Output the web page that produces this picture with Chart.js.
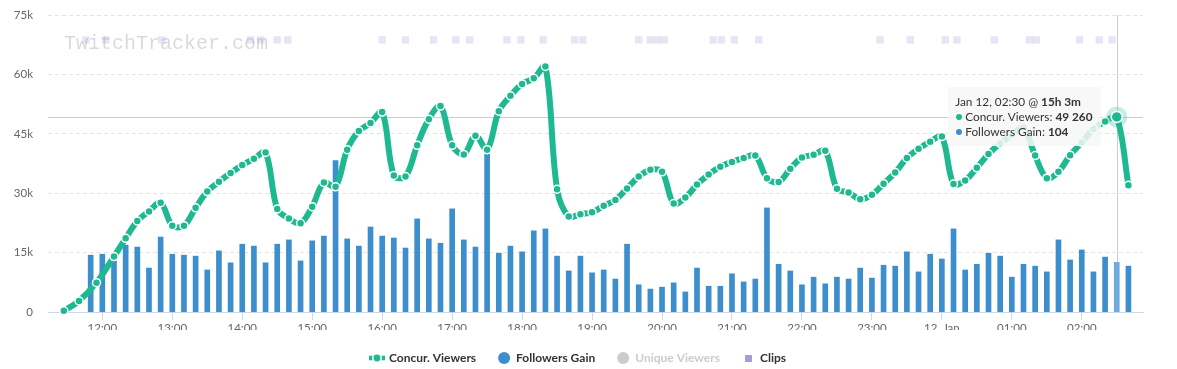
<!DOCTYPE html>
<html>
<head>
<meta charset="utf-8">
<script src="https://cdn.jsdelivr.net/npm/chart.js@4.4.1/dist/chart.umd.min.js"></script>
<style>
  html, body { margin: 0; padding: 0; background: #fff; }
  #wrap { position: relative; width: 1177px; height: 369px; }
  #tip {
    position: absolute; display: none; pointer-events: none;
    background: rgba(247, 247, 247, 0.85);
    padding: 7px 8px 7px 7px;
    font: 11.8px/15px Lato, sans-serif; color: #333;
    white-space: nowrap;
  }
  #tip b { font-weight: bold; }
  #tip .dot { display: inline-block; width: 6px; height: 6px; border-radius: 50%; margin: 0 3px 1px 1px; vertical-align: middle; }
</style>
</head>
<body>
<div id="wrap">
  <canvas id="chart" width="1177" height="369"></canvas>
  <div id="tip"></div>
</div>
<script>
// concurrent viewers, one sample every 10 minutes after the first few
const viewerTimes = ['11:27', '11:40', '11:55',
  '12:10', '12:20', '12:30', '12:40', '12:50', '13:00', '13:10', '13:20', '13:30', '13:40', '13:50',
  '14:00', '14:10', '14:20', '14:30', '14:40', '14:50', '15:00', '15:10', '15:20', '15:30', '15:40', '15:50',
  '16:00', '16:10', '16:20', '16:30', '16:40', '16:50', '17:00', '17:10', '17:20', '17:30', '17:40', '17:50',
  '18:00', '18:10', '18:20', '18:30', '18:40', '18:50', '19:00', '19:10', '19:20', '19:30', '19:40', '19:50',
  '20:00', '20:10', '20:20', '20:30', '20:40', '20:50', '21:00', '21:10', '21:20', '21:30', '21:40', '21:50',
  '22:00', '22:10', '22:20', '22:30', '22:40', '22:50', '23:00', '23:10', '23:20', '23:30', '23:40', '23:50',
  '00:00', '00:10', '00:20', '00:30', '00:40', '00:50', '01:00', '01:10', '01:20', '01:30', '01:40', '01:50',
  '02:00', '02:10', '02:20', '02:30', '02:40'];
const viewers = [300, 2800, 7400,
  14000, 18600, 23000, 25400, 27600, 21800, 21800, 26300, 30400, 32900, 35100,
  37100, 38700, 40300, 26000, 23600, 22400, 26600, 32700, 31600, 41000, 45700, 47700,
  50500, 34500, 34200, 42100, 48700, 52000, 42100, 39800, 44500, 41000, 50700, 54600,
  57600, 59000, 62000, 31000, 24100, 24700, 25200, 26800, 28300, 31200, 34200, 35900,
  35400, 27400, 28900, 32200, 34700, 36700, 37900, 38900, 39500, 33800, 32800, 36200,
  39000, 39700, 40700, 31100, 30200, 28500, 29600, 32400, 35200, 38900, 41200, 43000,
  44300, 32300, 33200, 36400, 39900, 42600, 44700, 46500, 39500, 33800, 35400, 39600,
  42800, 46200, 48100, 49260, 32000];

// followers gained per 10 minutes
const followerTimes = ['11:50', '12:00'].concat(viewerTimes.slice(3));
const followers = [119, 121, 115, 140, 136, 92, 157, 121, 119, 117,
  88, 128, 103, 142, 138, 103, 142, 151, 107, 149,
  159, 317, 153, 138, 178, 159, 155, 134, 195, 153,
  144, 216, 151, 136, 330, 123, 138, 126, 170, 174,
  117, 86, 117, 82, 88, 69, 142, 57, 48, 52,
  61, 42, 92, 54, 54, 80, 63, 69, 218, 100,
  86, 57, 73, 59, 73, 69, 92, 71, 98, 96,
  126, 84, 121, 111, 174, 88, 100, 123, 117, 73,
  100, 96, 84, 151, 109, 130, 84, 115, 104, 96];

// clip creation times
const clipTimes = ['11:46', '12:03', '12:51', '14:07', '14:16', '14:30', '14:39', '16:00', '16:20', '16:44',
  '17:03', '17:15', '17:47', '17:59', '18:18', '18:45', '18:52', '19:40', '19:50', '19:56', '20:02',
  '20:44', '20:51', '21:02', '21:23', '23:07', '23:33', '00:03', '00:13', '00:45', '01:15', '01:21',
  '01:58', '02:15', '02:26'];

const hourTicks = ['12:00', '13:00', '14:00', '15:00', '16:00', '17:00', '18:00', '19:00',
  '20:00', '21:00', '22:00', '23:00', '00:00', '01:00', '02:00'];
const hourLabels = ['12:00', '13:00', '14:00', '15:00', '16:00', '17:00', '18:00', '19:00',
  '20:00', '21:00', '22:00', '23:00', '12. Jan', '01:00', '02:00'];

const legendNames = ['Concur. Viewers', 'Followers Gain', 'Unique Viewers', 'Clips'];
const streamStart = '11:27';
const hoverTime = '02:30';

const TEAL = '#1eb991';
const BLUE = '#3d8ecc';

// minutes since 00:00 on Jan 11 (times before 11:00 belong to Jan 12)
function toMin(t) {
  const [h, m] = t.split(':').map(Number);
  return (h < 11 ? h + 24 : h) * 60 + m;
}
function fmtTime(min) {
  const h = Math.floor(min / 60) % 24, m = min % 60;
  return String(h).padStart(2, '0') + ':' + String(m).padStart(2, '0');
}
function fmtNum(n) {
  return n.toLocaleString('en-US').replace(/,/g, ' ');
}

const CLIP_ROW = 68700; // clips are drawn as a row of squares near the top

// legend icons
const lineIcon = document.createElement('canvas');
lineIcon.width = 18; lineIcon.height = 12;
(function () {
  const c = lineIcon.getContext('2d');
  c.strokeStyle = TEAL; c.lineWidth = 4.5;
  c.beginPath(); c.moveTo(1, 6); c.lineTo(17, 6); c.stroke();
  c.fillStyle = TEAL; c.strokeStyle = '#fff'; c.lineWidth = 1.5;
  c.beginPath(); c.arc(9, 6, 4.2, 0, Math.PI * 2); c.fill(); c.stroke();
})();
const clipIcon = document.createElement('canvas');
clipIcon.width = 7; clipIcon.height = 7;
(function () {
  const c = clipIcon.getContext('2d');
  c.fillStyle = '#a99bd8'; c.fillRect(0, 0, 7, 7);
})();

const tipEl = document.getElementById('tip');
function externalTooltip({ tooltip }) {
  const pts = tooltip.dataPoints || [];
  const v = pts.find(d => d.datasetIndex === 0);
  const f = pts.find(d => d.datasetIndex === 1);
  if (!v) { tipEl.style.display = 'none'; return; }
  const x = v.raw.x;
  const dur = x - toMin(streamStart);
  const day = x >= 1440 ? 'Jan 12' : 'Jan 11';
  let html = day + ', ' + fmtTime(x) + ' @ <b>' + Math.floor(dur / 60) + 'h ' + (dur % 60) + 'm</b>';
  html += '<br><span class="dot" style="background:' + TEAL + '"></span>' + legendNames[0] + ': <b>' + fmtNum(v.raw.y) + '</b>';
  if (f) html += '<br><span class="dot" style="background:' + BLUE + '"></span>' + legendNames[1] + ': <b>' + fmtNum(f.raw.y) + '</b>';
  tipEl.innerHTML = html;
  tipEl.style.display = 'block';
  tipEl.style.left = (v.element.x - 16.5 - tipEl.offsetWidth) + 'px';
  tipEl.style.top = (v.element.y - 30) + 'px';
}

// watermark, crosshairs and the hover halo
const overlay = {
  id: 'overlay',
  beforeDatasetsDraw(chart) {
    const { ctx, chartArea: a } = chart;
    ctx.save();
    ctx.font = '20px "Liberation Mono"';
    ctx.fillStyle = 'rgba(0,0,0,0.15)';
    ctx.fillText('TwitchTracker.com', 64, 44);
    const act = chart.getActiveElements().find(e => e.datasetIndex === 0);
    if (act) {
      const px = Math.round(act.element.x) + 0.5, py = Math.round(act.element.y) + 0.5;
      ctx.strokeStyle = '#cccccc'; ctx.lineWidth = 1;
      ctx.beginPath();
      ctx.moveTo(px, a.top); ctx.lineTo(px, a.bottom);
      ctx.moveTo(a.left, py); ctx.lineTo(a.right, py);
      ctx.stroke();
    }
    ctx.restore();
  },
  afterDatasetsDraw(chart) {
    const act = chart.getActiveElements().find(e => e.datasetIndex === 0);
    if (!act) return;
    const { ctx } = chart;
    ctx.save();
    ctx.fillStyle = 'rgba(30,185,145,0.25)';
    ctx.beginPath(); ctx.arc(act.element.x, act.element.y, 10.5, 0, Math.PI * 2); ctx.fill();
    ctx.restore();
    act.element.draw(ctx, chart.chartArea);
  }
};

Chart.defaults.font.family = 'Lato, sans-serif';

const chart = new Chart(document.getElementById('chart'), {
  type: 'line',
  data: {
    datasets: [{
      label: legendNames[0],
      type: 'line',
      data: viewerTimes.map((t, i) => ({ x: toMin(t), y: viewers[i] })),
      borderColor: TEAL,
      borderWidth: 6,
      tension: 0.35,
      pointRadius: 4,
      pointBorderWidth: 1.5,
      pointBackgroundColor: TEAL,
      pointBorderColor: '#ffffff',
      pointHoverRadius: 5.5,
      pointHoverBorderWidth: 1.5,
      pointHoverBackgroundColor: TEAL,
      pointHoverBorderColor: '#ffffff',
      yAxisID: 'y',
      order: 0,
      clip: false
    }, {
      label: legendNames[1],
      type: 'bar',
      data: followerTimes.map((t, i) => ({ x: toMin(t), y: followers[i] })),
      backgroundColor: BLUE,
      hoverBackgroundColor: '#6eaadb',
      barThickness: 5,
      yAxisID: 'y1',
      order: 1
    }, {
      label: legendNames[3],
      type: 'line',
      showLine: false,
      data: clipTimes.map(t => ({ x: toMin(t), y: CLIP_ROW })),
      pointStyle: 'rect',
      pointRadius: 5.2,
      pointBorderWidth: 0,
      pointBackgroundColor: 'rgba(140,120,200,0.2)',
      yAxisID: 'y',
      order: 2
    }]
  },
  options: {
    responsive: false,
    animation: false,
    events: [],
    layout: { padding: { left: 14, right: 34, top: 15, bottom: -5 } },
    scales: {
      x: {
        type: 'linear',
        offset: false,
        min: 673.4,
        max: 1612.5,
        afterBuildTicks: s => { s.ticks = hourTicks.map(t => ({ value: toMin(t) })); },
        afterFit: s => { s.height = 18; },
        ticks: {
          autoSkip: false,
          maxRotation: 0,
          padding: 1,
          color: '#666666',
          font: { size: 11.5 },
          callback: v => hourLabels[hourTicks.findIndex(t => toMin(t) === v)]
        },
        grid: { offset: false, drawOnChartArea: false, drawTicks: true, tickLength: 8, color: '#ccd6eb' },
        border: { display: true, color: '#ccd6eb' }
      },
      y: {
        min: 0,
        max: 75000,
        afterFit: s => { s.width = 34; s.paddingTop = 0; s.paddingBottom = 0; },
        ticks: {
          stepSize: 15000,
          padding: 15,
          color: '#666666',
          font: { size: 11.5 },
          callback: v => v === 0 ? '0' : (v / 1000) + 'k'
        },
        grid: { color: ctx => ctx.tick.value === 0 ? 'rgba(0,0,0,0)' : '#e3e3e3', drawTicks: false },
        border: { display: false, dash: [4, 3] }
      },
      y1: { display: false, min: 0, max: 622 }
    },
    plugins: {
      legend: {
        position: 'bottom',
        onClick: null,
        labels: {
          usePointStyle: true,
          boxWidth: 12,
          boxHeight: 8.5,
          padding: 22,
          color: '#333333',
          font: { size: 12, weight: 'bold' },
          generateLabels: () => legendNames.map((name, i) => ({
            text: name,
            fillStyle: [TEAL, BLUE, '#cccccc', '#a99bd8'][i],
            strokeStyle: [TEAL, BLUE, '#cccccc', '#a99bd8'][i],
            lineWidth: 0,
            pointStyle: i === 0 ? lineIcon : (i === 3 ? clipIcon : 'circle'),
            fontColor: i === 2 ? '#cccccc' : '#333333',
            hidden: false,
            datasetIndex: i
          }))
        }
      },
      tooltip: { enabled: false, external: externalTooltip }
    }
  },
  plugins: [overlay]
});

const active = [
  { datasetIndex: 0, index: viewerTimes.indexOf(hoverTime) },
  { datasetIndex: 1, index: followerTimes.indexOf(hoverTime) }
];
chart.setActiveElements(active);
chart.tooltip.setActiveElements(active, { x: 0, y: 0 });
chart.update();
</script>
</body>
</html>
